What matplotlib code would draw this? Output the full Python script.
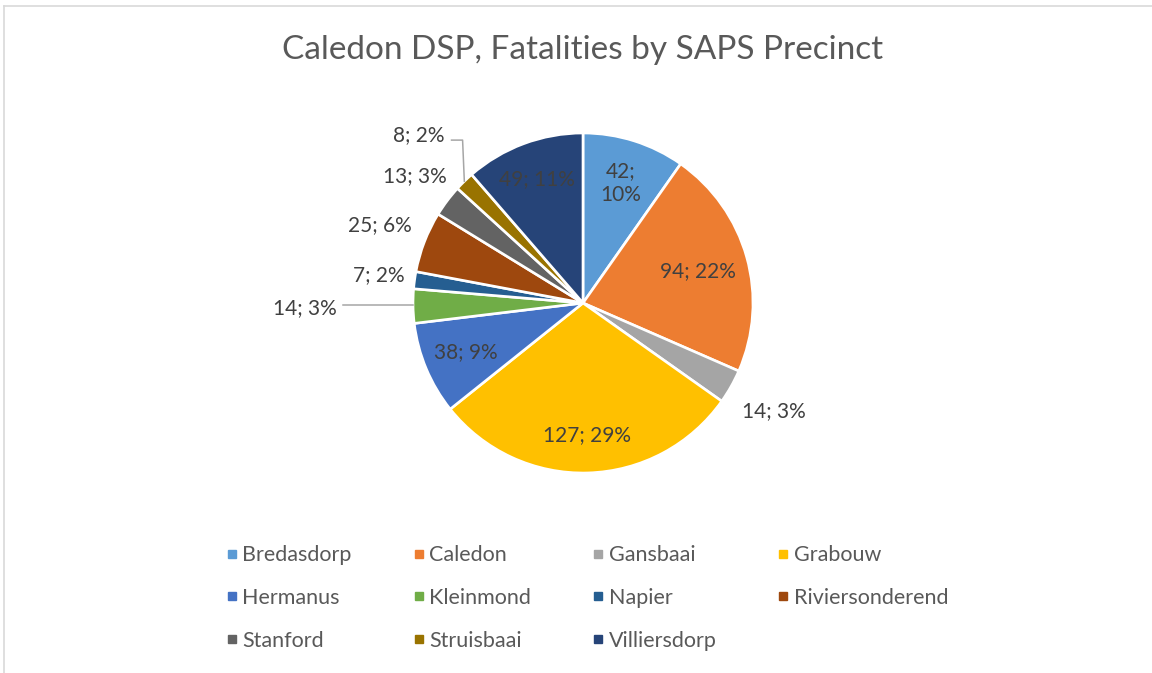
import numpy as np
import matplotlib.pyplot as plt
from matplotlib.lines import Line2D

precincts = ["Bredasdorp", "Caledon", "Gansbaai", "Grabouw", "Hermanus", "Kleinmond",
             "Napier", "Riviersonderend", "Stanford", "Struisbaai", "Villiersdorp"]
fatalities = [42, 94, 14, 127, 38, 14, 7, 25, 13, 8, 49]
colors = ["#5B9BD5", "#ED7D31", "#A5A5A5", "#FFC000", "#4472C4", "#70AD47",
          "#255E91", "#9E480E", "#636363", "#997300", "#264478"]

# label placement (radius factor), style only
label_r = [0.74, 0.70, 1.29, 0.78, 0.75, 1.635, 1.21, 1.28, 1.24, 1.38, 0.78]
leaders = {5: "flat", 9: "elbow"}

plt.rcParams["font.family"] = ["Lato", "DejaVu Sans"]

W, H = 1152, 673
R = 170.0
cx, cy = 583, 303
fig = plt.figure(figsize=(W / 100, H / 100), dpi=100)
ax = fig.add_axes([0, 0, 1, 1])
ax.axis("off")

# chart area border, only top and left edges are inside the picture
fig.add_artist(Line2D([3.5 / W, 3.5 / W], [0, 1 - 5.5 / H], transform=fig.transFigure,
                      color="#D9D9D9", lw=1.2))
fig.add_artist(Line2D([3.5 / W, 1], [1 - 5.5 / H, 1 - 5.5 / H], transform=fig.transFigure,
                      color="#D9D9D9", lw=1.2))

ax.pie(fatalities, colors=colors, startangle=90, counterclock=False,
       radius=1.0, center=(0, 0),
       wedgeprops=dict(edgecolor="white", linewidth=1.9))
ax.set_xlim(-cx / R, (W - cx) / R)
ax.set_ylim(-(H - cy) / R, cy / R)
ax.set_aspect("auto")

total = sum(fatalities)
cum = np.cumsum([0] + fatalities)
for i, v in enumerate(fatalities):
    mid = (cum[i] + v / 2) / total * 2 * np.pi
    dx, dy = np.sin(mid), np.cos(mid)
    pct = round(v / total * 100)
    txt = f"{v}; {pct}%"
    if i == 0:
        txt = f"{v};\n{pct}%"
    lx, ly = label_r[i] * dx, label_r[i] * dy
    ax.text(lx, ly, txt, ha="center", va="center", fontsize=15, color="#404040",
            linespacing=1.3)
    if leaders.get(i) == "flat":
        ax.plot([lx + 0.225, dx], [dy + 0.005, dy + 0.005], color="#A6A6A6", lw=1.1)
    elif leaders.get(i) == "elbow":
        ax.plot([lx + 0.19, lx + 0.255, dx * 1.0], [ly - 0.03, ly - 0.03, dy],
                color="#A6A6A6", lw=1.1)

fig.text(cx / W, 1 - 50 / H, "Caledon DSP, Fatalities by SAPS Precinct",
         ha="center", va="center", fontsize=24, color="#595959")

order = [0, 4, 8, 1, 5, 9, 2, 6, 10, 3, 7]
handles = [Line2D([], [], marker="s", linestyle="none", markersize=6,
                  markerfacecolor=colors[k], markeredgecolor=colors[k]) for k in order]
fig.legend(handles, [precincts[k] for k in order], ncol=4, loc="center",
           bbox_to_anchor=(588 / W, 1 - 598 / H), frameon=False, fontsize=15.5,
           labelcolor="#595959", handlelength=0.4, handletextpad=0.3,
           columnspacing=2.9, labelspacing=1.05, borderpad=0)

fig.savefig("out.png", dpi=100)
